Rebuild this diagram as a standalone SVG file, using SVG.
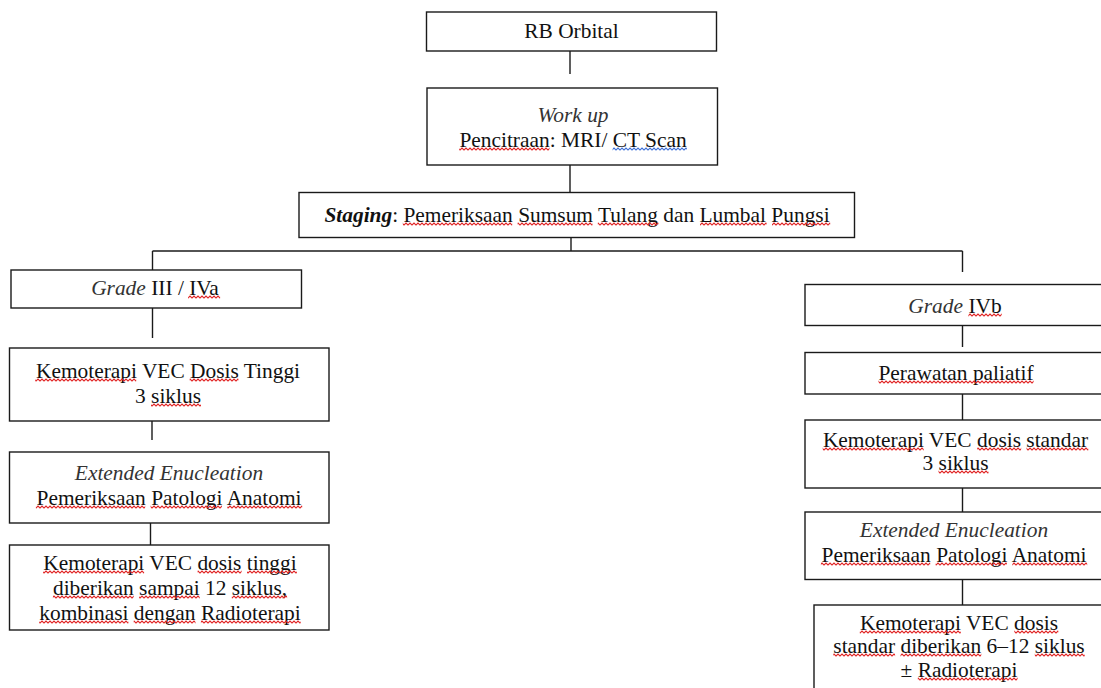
<svg xmlns="http://www.w3.org/2000/svg" width="1101" height="688" viewBox="0 0 1101 688">
  <style>
    .box { fill: #ffffff; stroke: #1a1a1a; stroke-width: 1.4; }
    .link { stroke: #1a1a1a; stroke-width: 1.4; fill: none; }
    .t { font-family: "Liberation Serif", "Times New Roman", Tinos, "Noto Serif", "DejaVu Serif", serif; font-size: 21.4px; fill: #111111; text-anchor: middle; }
    .it { font-style: italic; fill: #333333; }
    .bi { font-style: italic; font-weight: bold; fill: #111111; }
    .sq { fill: url(#spell); }
    .sqb { fill: url(#grammar); }
  </style>
  <defs>
    <!-- wavy proofing underline, one zigzag period per tile -->
    <pattern id="spell" patternUnits="userSpaceOnUse" x="0" y="0" width="4" height="4">
      <path d="M-1 2 L0 3 L2 1 L4 3 L5 2" fill="none" stroke="#e01f1f" stroke-width="1.2"/>
    </pattern>
    <pattern id="grammar" patternUnits="userSpaceOnUse" x="0" y="0" width="4" height="4">
      <path d="M-1 2 L0 3 L2 1 L4 3 L5 2" fill="none" stroke="#3c6fd6" stroke-width="1.2"/>
    </pattern>
  </defs>
  <rect width="1101" height="688" fill="#ffffff"/>

  <!-- connectors -->
  <g id="connectors">
    <line class="link" x1="570" y1="51" x2="570" y2="74"/>
    <line class="link" x1="570" y1="165" x2="570" y2="192"/>
    <line class="link" x1="571" y1="230" x2="571" y2="251"/>
    <line class="link" x1="152.5" y1="251" x2="962.5" y2="251"/>
    <line class="link" x1="152.5" y1="251" x2="152.5" y2="271"/>
    <line class="link" x1="962.5" y1="251" x2="962.5" y2="272"/>
    <line class="link" x1="152.5" y1="308" x2="152.5" y2="338"/>
    <line class="link" x1="152" y1="408" x2="152" y2="440"/>
    <line class="link" x1="150.5" y1="513" x2="150.5" y2="545"/>
    <line class="link" x1="962.5" y1="316" x2="962.5" y2="347"/>
    <line class="link" x1="962.5" y1="394" x2="962.5" y2="420"/>
    <line class="link" x1="962.5" y1="488" x2="962.5" y2="512"/>
    <line class="link" x1="962.5" y1="579" x2="962.5" y2="605"/>
  </g>

  <!-- top of the flow -->
  <g id="rb-orbital">
    <rect class="box" x="426.5" y="12" width="290" height="39"/>
    <text class="t" x="571.5" y="38"><tspan>RB</tspan> <tspan>Orbital</tspan></text>
  </g>

  <g id="work-up">
    <rect class="box" x="427" y="88" width="290.5" height="77"/>
    <text class="t it" x="573" y="122"><tspan>Work</tspan> <tspan>up</tspan></text>
    <text class="t" x="573" y="147"><tspan>Pencitraan</tspan>: <tspan>MRI/</tspan> <tspan>CT</tspan> <tspan>Scan</tspan></text>
    <g transform="translate(0 147)">
      <rect class="sq" x="459.2" y="0" width="90.3" height="4"/>
      <rect class="sqb" x="612.6" y="0" width="74.3" height="4"/>
    </g>
  </g>

  <g id="staging">
    <rect class="box" x="299" y="192.5" width="555.5" height="45"/>
    <text class="t" x="577" y="222"><tspan class="bi">Staging</tspan>: <tspan>Pemeriksaan</tspan> <tspan>Sumsum</tspan> <tspan>Tulang</tspan> <tspan>dan</tspan> <tspan>Lumbal</tspan> <tspan>Pungsi</tspan></text>
    <g transform="translate(0 222)">
      <rect class="sq" x="402.8" y="0" width="109.4" height="4"/>
      <rect class="sq" x="517.6" y="0" width="74.9" height="4"/>
      <rect class="sq" x="597.8" y="0" width="60.6" height="4"/>
      <rect class="sq" x="700.0" y="0" width="66.6" height="4"/>
      <rect class="sq" x="772.0" y="0" width="58.2" height="4"/>
    </g>
  </g>

  <!-- left branch: Grade III / IVa -->
  <g id="grade-iii-iva">
    <rect class="box" x="11" y="270" width="290.5" height="38"/>
    <text class="t" x="155" y="295"><tspan class="it">Grade</tspan> <tspan>III</tspan> / <tspan>IVa</tspan></text>
    <g transform="translate(0 295)">
      <rect class="sq" x="188.1" y="0" width="32" height="4"/>
    </g>
  </g>

  <g id="kemo-high-3">
    <rect class="box" x="9.5" y="348" width="319.5" height="73"/>
    <text class="t" x="168" y="378"><tspan>Kemoterapi</tspan> <tspan>VEC</tspan> <tspan>Dosis</tspan> <tspan>Tinggi</tspan></text>
    <text class="t" x="168" y="403"><tspan>3</tspan> <tspan>siklus</tspan></text>
    <g transform="translate(0 378)">
      <rect class="sq" x="35.2" y="0" width="101" height="4"/>
      <rect class="sq" x="189.7" y="0" width="48.7" height="4"/>
    </g>
    <g transform="translate(0 403)">
      <rect class="sq" x="151" y="0" width="50" height="4"/>
    </g>
  </g>

  <g id="enucleation-left">
    <rect class="box" x="9.5" y="452" width="319.5" height="71"/>
    <text class="t it" x="169" y="480"><tspan>Extended</tspan> <tspan>Enucleation</tspan></text>
    <text class="t" x="169" y="505"><tspan>Pemeriksaan</tspan> <tspan>Patologi</tspan> <tspan>Anatomi</tspan></text>
    <g transform="translate(0 505)">
      <rect class="sq" x="35.9" y="0" width="109.3" height="4"/>
      <rect class="sq" x="150.6" y="0" width="71.3" height="4"/>
      <rect class="sq" x="227.3" y="0" width="74.9" height="4"/>
    </g>
  </g>

  <g id="kemo-high-12">
    <rect class="box" x="9.5" y="545" width="319.5" height="85"/>
    <text class="t" x="170" y="570"><tspan>Kemoterapi</tspan> <tspan>VEC</tspan> <tspan>dosis</tspan> <tspan>tinggi</tspan></text>
    <text class="t" x="170" y="595"><tspan>diberikan</tspan> <tspan>sampai</tspan> <tspan>12</tspan> <tspan>siklus,</tspan></text>
    <text class="t" x="170" y="620"><tspan>kombinasi</tspan> <tspan>dengan</tspan> <tspan>Radioterapi</tspan></text>
    <g transform="translate(0 570)">
      <rect class="sq" x="43.1" y="0" width="101" height="4"/>
      <rect class="sq" x="197.6" y="0" width="44" height="4"/>
      <rect class="sq" x="247.0" y="0" width="49.9" height="4"/>
    </g>
    <g transform="translate(0 595)">
      <rect class="sq" x="52.9" y="0" width="80.8" height="4"/>
      <rect class="sq" x="139.1" y="0" width="60.6" height="4"/>
      <rect class="sq" x="231.8" y="0" width="55.3" height="4"/>
    </g>
    <g transform="translate(0 620)">
      <rect class="sq" x="39.2" y="0" width="89.2" height="4"/>
      <rect class="sq" x="133.7" y="0" width="61.8" height="4"/>
      <rect class="sq" x="200.9" y="0" width="99.8" height="4"/>
    </g>
  </g>

  <!-- right branch: Grade IVb -->
  <g id="grade-ivb">
    <rect class="box" x="805" y="284.5" width="300" height="41"/>
    <text class="t" x="955" y="313"><tspan class="it">Grade</tspan> <tspan>IVb</tspan></text>
    <g transform="translate(0 313)">
      <rect class="sq" x="968.4" y="0" width="33.3" height="4"/>
    </g>
  </g>

  <g id="palliative">
    <rect class="box" x="805" y="352.5" width="300" height="41.5"/>
    <text class="t" x="956" y="380"><tspan>Perawatan</tspan> <tspan>paliatif</tspan></text>
    <g transform="translate(0 380)">
      <rect class="sq" x="878.5" y="0" width="155.1" height="4"/>
    </g>
  </g>

  <g id="kemo-standard-3">
    <rect class="box" x="805" y="420" width="300" height="68"/>
    <text class="t" x="955.5" y="447"><tspan>Kemoterapi</tspan> <tspan>VEC</tspan> <tspan>dosis</tspan> <tspan>standar</tspan></text>
    <text class="t" x="955.5" y="470"><tspan>3</tspan> <tspan>siklus</tspan></text>
    <g transform="translate(0 447)">
      <rect class="sq" x="822.7" y="0" width="101" height="4"/>
      <rect class="sq" x="977.2" y="0" width="44" height="4"/>
      <rect class="sq" x="1026.5" y="0" width="61.8" height="4"/>
    </g>
    <g transform="translate(0 470)">
      <rect class="sq" x="938.5" y="0" width="50" height="4"/>
    </g>
  </g>

  <g id="enucleation-right">
    <rect class="box" x="805" y="512" width="300" height="67.5"/>
    <text class="t it" x="954" y="537"><tspan>Extended</tspan> <tspan>Enucleation</tspan></text>
    <text class="t" x="954" y="562"><tspan>Pemeriksaan</tspan> <tspan>Patologi</tspan> <tspan>Anatomi</tspan></text>
    <g transform="translate(0 562)">
      <rect class="sq" x="820.9" y="0" width="109.3" height="4"/>
      <rect class="sq" x="935.6" y="0" width="71.3" height="4"/>
      <rect class="sq" x="1012.3" y="0" width="74.9" height="4"/>
    </g>
  </g>

  <g id="kemo-standard-12">
    <rect class="box" x="814" y="605" width="300" height="100"/>
    <text class="t" x="959" y="630"><tspan>Kemoterapi</tspan> <tspan>VEC</tspan> <tspan>dosis</tspan></text>
    <text class="t" x="959" y="653"><tspan>standar</tspan> <tspan>diberikan</tspan> <tspan>6–12</tspan> <tspan>siklus</tspan></text>
    <text class="t" x="959" y="677">± <tspan>Radioterapi</tspan></text>
    <g transform="translate(0 630)">
      <rect class="sq" x="859.8" y="0" width="101" height="4"/>
      <rect class="sq" x="1014.3" y="0" width="44" height="4"/>
    </g>
    <g transform="translate(0 653)">
      <rect class="sq" x="833.3" y="0" width="61.8" height="4"/>
      <rect class="sq" x="900.5" y="0" width="80.8" height="4"/>
      <rect class="sq" x="1034.8" y="0" width="49.9" height="4"/>
    </g>
    <g transform="translate(0 677)">
      <rect class="sq" x="917.8" y="0" width="99.8" height="4"/>
    </g>
  </g>
</svg>
